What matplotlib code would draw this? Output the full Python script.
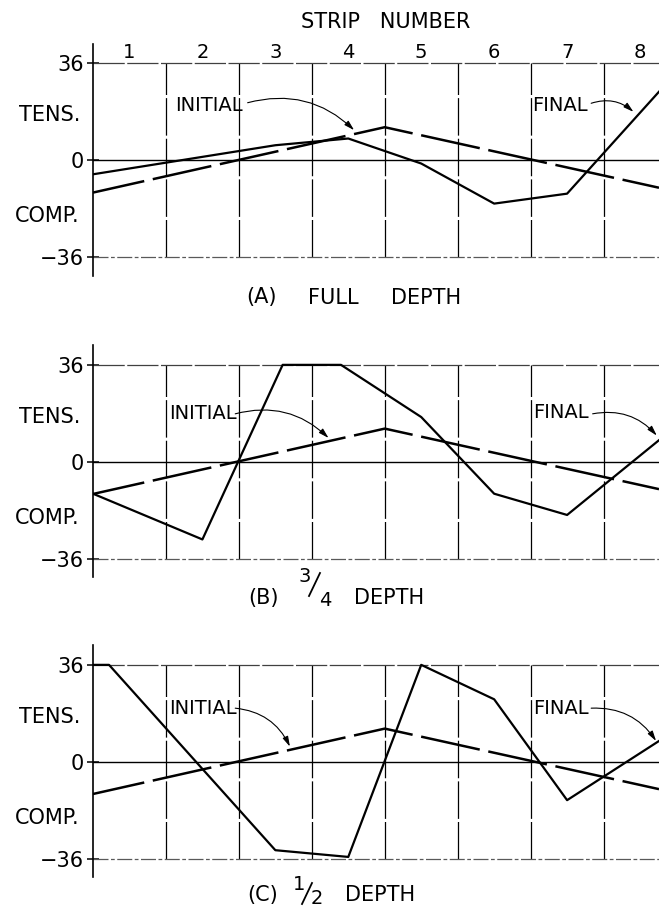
import matplotlib
matplotlib.use("Agg")
import matplotlib.pyplot as plt
from matplotlib.lines import Line2D

plt.rcParams['font.family'] = ['DejaVu Sans']

# strips: strip k spans [k-1, k]
strip_labels = ['1', '2', '3', '4', '5', '6', '7', '8']
strip_bounds = [1, 2, 3, 4, 5, 6, 7]
y_ticks = [-36, 0, 36]
y_ticklabels = ['\u221236', '0', '36']

# initial stress (dashed) - same in all three panels
initial_x = [0, 4, 7.76]
initial_y = [-12, 12.3, -10.2]

# final stress (solid)
final_a_x = [0, 2.5, 3.5, 4.5, 5.5, 6.5, 7.76]
final_a_y = [-5.2, 5.6, 8.1, -1.2, -16.1, -12.4, 25.5]

final_b_x = [0, 1.5, 2.6, 3.4, 4.5, 5.5, 6.5, 7.76]
final_b_y = [-11.9, -28.9, 36, 36, 16.6, -11.9, -19.8, 8.0]

final_c_x = [0, 0.22, 2.5, 3.5, 4.5, 5.5, 6.5, 7.76]
final_c_y = [36, 36, -32.9, -35.4, 36, 23.2, -14.3, 7.7]

# caption pieces: (text, x px, y offset px, size)
captions = [
    [('(A)', 261.5, 0, 15), ('FULL', 333, 0, 15), ('DEPTH', 426.5, 0, 15)],
    [('(B)', 263, 0, 15), ('3', 305, -21, 14), ('4', 325, 2, 14), ('DEPTH', 389.5, 0, 15)],
    [('(C)', 262.5, 0, 15), ('1', 299, -10, 14), ('2', 317, 4, 14), ('DEPTH', 380, 0, 15)],
]
# fraction bars (px): (x0, y0 offset, x1, y1 offset)
frac_bars = [None, (309, -2, 320, -25), (302, 9, 312, -12)]

# label anchors (data units) and arrow tips
initial_label = [(1.13, 20.5), (1.05, 17.8), (1.05, 19.9)]
initial_arrow = [((2.12, 21.4), (3.58, 11.2)), ((1.95, 17.8), (3.23, 8.8)), ((1.95, 19.9), (2.70, 5.6))]
final_label = [(6.02, 20.5), (6.03, 18.2), (6.03, 19.9)]
final_arrow = [((6.83, 21.2), (7.41, 18.0)), ((6.85, 17.8), (7.73, 9.7)), ((6.83, 19.9), (7.72, 7.7))]

W, H = 659, 910
fig = plt.figure(figsize=(W / 100, H / 100), dpi=100)


def fx(x):
    return x / W


def fy(y):
    return 1 - y / H


ylim = (-43, 43.3)
ppu = 2.69
left_px, right_px = 93, 659
zero_px = [160.3, 461.7, 761.7]
caption_y = [297.5, 598, 895]
panels = [(final_a_x, final_a_y), (final_b_x, final_b_y), (final_c_x, final_c_y)]

for i, (fxs, fys) in enumerate(panels):
    top = zero_px[i] - ylim[1] * ppu
    h = (ylim[1] - ylim[0]) * ppu
    ax = fig.add_axes([fx(left_px), fy(top + h), (right_px - left_px) / W, h / H])
    ax.set_xlim(0, 7.76)
    ax.set_ylim(*ylim)
    for s in ['top', 'right', 'bottom']:
        ax.spines[s].set_visible(False)
    ax.spines['left'].set_linewidth(1.2)
    ax.set_xticks([])
    ax.set_yticks(y_ticks)
    ax.set_yticklabels(y_ticklabels, fontsize=15)
    ax.tick_params(axis='y', direction='inout', length=9, width=1.1, pad=2)

    # grid
    ax.vlines(strip_bounds, -36, 36, colors='k', lw=0.9, linestyles=(0, (30, 2.5)))
    ax.axhline(36, color='0.25', lw=0.9, ls=(0, (25, 2)))
    ax.axhline(-36, color='0.35', lw=0.9, ls=(0, (12, 2, 3, 2)))
    ax.axhline(0, color='k', lw=1.0)

    ax.plot(initial_x, initial_y, color='k', lw=1.8, ls=(3, (24, 3.5)), solid_capstyle='butt')
    ax.plot(fxs, fys, color='k', lw=1.6)

    # labels
    ax.text(*initial_label[i], 'INITIAL', fontsize=14, ha='left', va='center')
    ax.text(*final_label[i], 'FINAL', fontsize=14, ha='left', va='center')
    for (p0, p1) in [initial_arrow[i], final_arrow[i]]:
        ax.annotate('', xy=p1, xytext=p0,
                    arrowprops=dict(arrowstyle='-|>,head_length=0.6,head_width=0.17',
                                    lw=0.8, color='k', shrinkA=0, shrinkB=0,
                                    connectionstyle='arc3,rad=-0.28'))

    if i == 0:
        for k, lab in enumerate(strip_labels):
            ax.text(k + 0.5, 40.2, lab, fontsize=14, ha='center', va='center', clip_on=False)

    fig.text(fx(19), fy(zero_px[i] - 45), 'TENS.', fontsize=15, ha='left', va='center')
    fig.text(fx(15), fy(zero_px[i] + 56), 'COMP.', fontsize=15, ha='left', va='center')
    for txt, cx, dy, size in captions[i]:
        fig.text(fx(cx), fy(caption_y[i] + dy), txt, fontsize=size, ha='center', va='center')
    if frac_bars[i] is not None:
        x0, y0, x1, y1 = frac_bars[i]
        fig.add_artist(Line2D([fx(x0), fx(x1)], [fy(caption_y[i] + y0), fy(caption_y[i] + y1)],
                              transform=fig.transFigure, color='k', lw=1.3))

fig.text(fx(386), fy(22), 'STRIP   NUMBER', fontsize=15, ha='center', va='center')

fig.savefig('out.png', dpi=100)
